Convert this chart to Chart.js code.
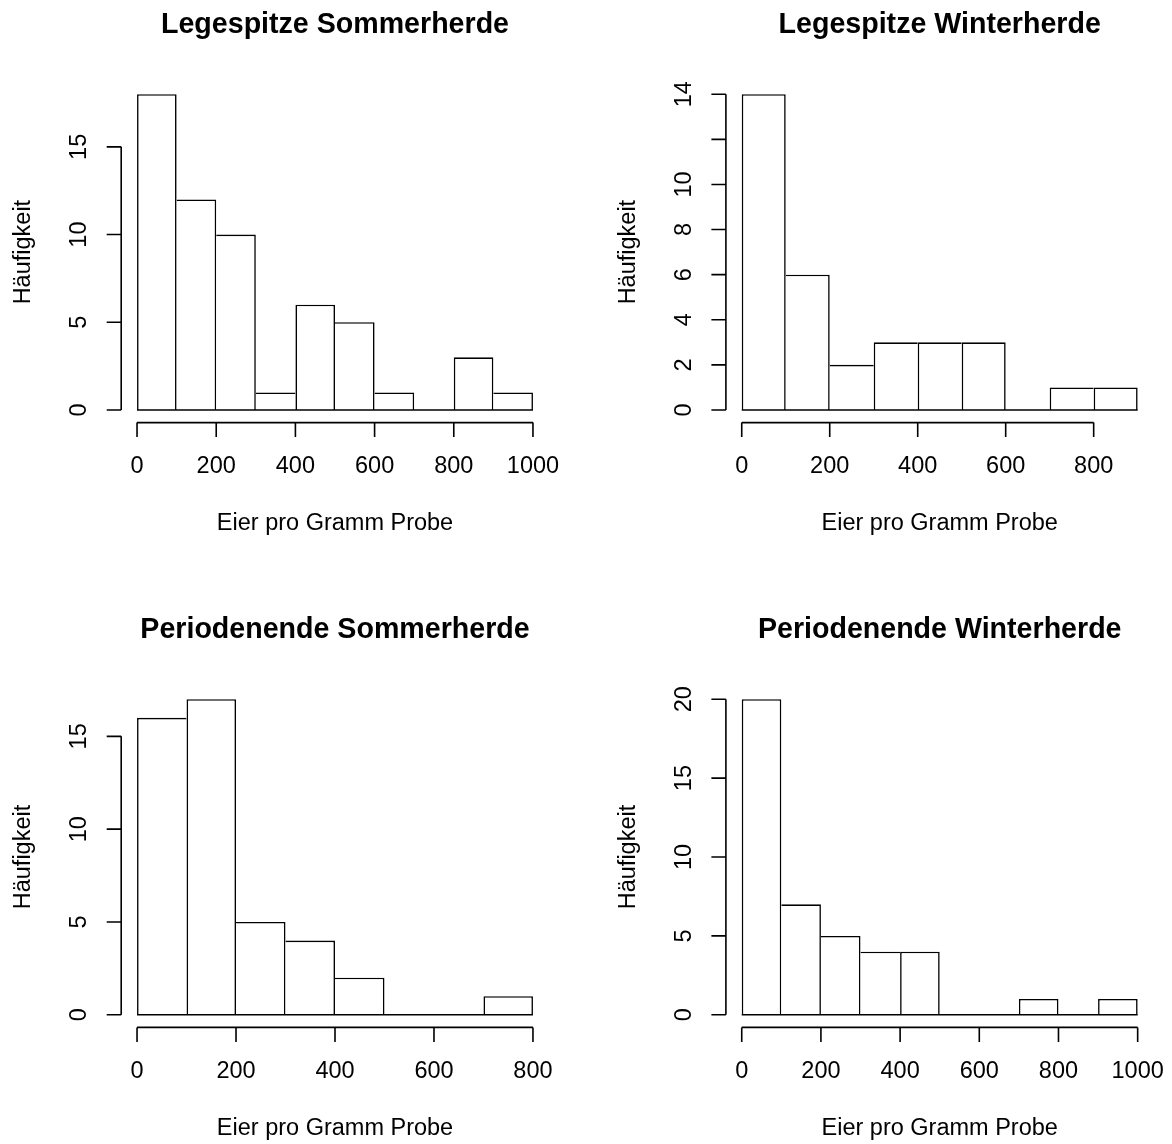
<!DOCTYPE html>
<html>
<head>
<meta charset="utf-8">
<script src="https://cdn.jsdelivr.net/npm/chart.js@4.4.1/dist/chart.umd.min.js"></script>
<style>
  body { margin: 0; background: #fff; }
  #wrap { position: relative; width: 1172px; height: 1144px; background: #fff; }
  #wrap canvas { position: absolute; }
</style>
</head>
<body>
<div id="wrap">
  <canvas id="h1" width="586" height="572" style="left:0;top:0"></canvas>
  <canvas id="h2" width="586" height="572" style="left:586px;top:0"></canvas>
  <canvas id="h3" width="586" height="572" style="left:0;top:572px"></canvas>
  <canvas id="h4" width="586" height="572" style="left:586px;top:572px"></canvas>
</div>
<script>
// class breaks and counts per histogram
var lsBreaks = [0, 100, 200, 300, 400, 500, 600, 700, 800, 900, 1000];
var lsCounts = [18, 12, 10, 1, 6, 5, 1, 0, 3, 1];
var lwBreaks = [0, 100, 200, 300, 400, 500, 600, 700, 800, 900];
var lwCounts = [14, 6, 2, 3, 3, 3, 0, 1, 1];
var psBreaks = [0, 100, 200, 300, 400, 500, 600, 700, 800];
var psCounts = [16, 17, 5, 4, 2, 0, 0, 1];
var pwBreaks = [0, 100, 200, 300, 400, 500, 600, 700, 800, 900, 1000];
var pwCounts = [20, 7, 5, 4, 4, 0, 0, 1, 0, 1];

// axis ticks
var lsXTicks = [0, 200, 400, 600, 800, 1000];
var lsYTicks = [0, 5, 10, 15];
var lsYLabels = ['0', '5', '10', '15'];
var lwXTicks = [0, 200, 400, 600, 800];
var lwYTicks = [0, 2, 4, 6, 8, 10, 12, 14];
var lwYLabels = ['0', '2', '4', '6', '8', '10', '', '14'];
var psXTicks = [0, 200, 400, 600, 800];
var psYTicks = [0, 5, 10, 15];
var psYLabels = ['0', '5', '10', '15'];
var pwXTicks = [0, 200, 400, 600, 800, 1000];
var pwYTicks = [0, 5, 10, 15, 20];
var pwYLabels = ['0', '5', '10', '15', '20'];

var xTitle = 'Eier pro Gramm Probe';
var yTitle = 'Häufigkeit';

var FONT = '"Liberation Sans", Arial, Helvetica, sans-serif';
var LW = 1.6;
var SLOT_W = 586, SLOT_H = 572;

// draws axes, labels and titles in the style of base R graphics
var rAxes = {
  id: 'rAxes',
  afterDraw: function(chart, args, o) {
    var ctx = chart.ctx, xs = chart.scales.x, ys = chart.scales.y, a = chart.chartArea;
    var i;
    ctx.save();
    ctx.strokeStyle = '#000';
    ctx.fillStyle = '#000';
    ctx.lineWidth = LW;
    ctx.lineCap = 'butt';

    // baseline under all bins (also covers empty classes)
    var y0 = ys.getPixelForValue(0);
    ctx.beginPath();
    ctx.moveTo(xs.getPixelForValue(o.breaks[0]), y0);
    ctx.lineTo(xs.getPixelForValue(o.breaks[o.breaks.length - 1]), y0);
    ctx.stroke();

    // x axis
    var xa = xs.getPixelForValue(o.xTicks[0]), xb = xs.getPixelForValue(o.xTicks[o.xTicks.length - 1]);
    ctx.beginPath();
    ctx.moveTo(xa, a.bottom);
    ctx.lineTo(xb, a.bottom);
    for (i = 0; i < o.xTicks.length; i++) {
      var px = xs.getPixelForValue(o.xTicks[i]);
      ctx.moveTo(px, a.bottom);
      ctx.lineTo(px, a.bottom + 14.5);
    }
    ctx.stroke();

    // y axis
    var ya = ys.getPixelForValue(o.yTicks[0]), yb = ys.getPixelForValue(o.yTicks[o.yTicks.length - 1]);
    ctx.beginPath();
    ctx.moveTo(a.left, ya);
    ctx.lineTo(a.left, yb);
    for (i = 0; i < o.yTicks.length; i++) {
      var py = ys.getPixelForValue(o.yTicks[i]);
      ctx.moveTo(a.left, py);
      ctx.lineTo(a.left - 14.5, py);
    }
    ctx.stroke();

    // tick labels
    ctx.font = '23.5px ' + FONT;
    ctx.textAlign = 'center';
    ctx.textBaseline = 'alphabetic';
    for (i = 0; i < o.xTicks.length; i++) {
      ctx.fillText(String(o.xTicks[i]), xs.getPixelForValue(o.xTicks[i]), a.bottom + 50.4);
    }
    for (i = 0; i < o.yTicks.length; i++) {
      if (!o.yLabels[i]) continue;
      ctx.save();
      ctx.translate(a.left - 35, ys.getPixelForValue(o.yTicks[i]));
      ctx.rotate(-Math.PI / 2);
      ctx.fillText(o.yLabels[i], 0, 0);
      ctx.restore();
    }

    // axis titles
    var cx = (a.left + a.right) / 2, cy = (a.top + a.bottom) / 2;
    ctx.fillText(xTitle, cx, a.bottom + 107.4);
    ctx.save();
    ctx.translate(a.left - 91.2, cy);
    ctx.rotate(-Math.PI / 2);
    ctx.fillText(yTitle, 0, 0);
    ctx.restore();

    // main title
    ctx.font = 'bold 28.6px ' + FONT;
    ctx.fillText(o.title, cx, a.top - 48.3);
    ctx.restore();
  }
};

function histogram(id, slotX, slotY, plot, title, breaks, counts, xTicks, yTicks, yLabels) {
  var points = counts.map(function(n, i) {
    return { x: (breaks[i] + breaks[i + 1]) / 2, y: n };
  });
  var xMin = breaks[0], xMax = breaks[breaks.length - 1];
  var yMax = Math.max.apply(null, counts);
  var dx = (xMax - xMin) * 0.04, dy = yMax * 0.04;

  new Chart(document.getElementById(id), {
    type: 'bar',
    data: {
      datasets: [{
        data: points,
        backgroundColor: '#fff',
        borderColor: '#000',
        borderSkipped: 'start',
        inflateAmount: 0,
        barPercentage: 1,
        categoryPercentage: 1,
        // a shared edge is drawn once, by the taller of the two neighbours
        borderWidth: function(c) {
          var i = c.dataIndex, n = counts[i];
          var left = i === 0 || counts[i - 1] <= n;
          var right = i === counts.length - 1 || counts[i + 1] < n;
          return { left: left ? LW : 0, top: LW, right: right ? LW : 0, bottom: 0 };
        }
      }]
    },
    options: {
      responsive: false,
      animation: false,
      devicePixelRatio: 1,
      events: [],
      layout: {
        padding: {
          left: plot[0] - slotX,
          right: slotX + SLOT_W - plot[1],
          top: plot[2] - slotY,
          bottom: slotY + SLOT_H - plot[3]
        }
      },
      scales: {
        x: { type: 'linear', display: false, offset: false, min: xMin - dx, max: xMax + dx },
        y: { type: 'linear', display: false, min: -dy, max: yMax + dy }
      },
      plugins: {
        legend: { display: false },
        tooltip: { enabled: false },
        rAxes: { title: title, breaks: breaks, xTicks: xTicks, yTicks: yTicks, yLabels: yLabels }
      }
    },
    plugins: [rAxes]
  });
}

// plot regions [left, right, top, bottom] in page pixels
var leftCol = [121.2, 548.8], rightCol = [725.9, 1153.5];
var topRow = [81.6, 422.6], bottomRow = [686.6, 1027.4];

histogram('h1', 0, 0, leftCol.concat(topRow), 'Legespitze Sommerherde',
  lsBreaks, lsCounts, lsXTicks, lsYTicks, lsYLabels);
histogram('h2', 586, 0, rightCol.concat(topRow), 'Legespitze Winterherde',
  lwBreaks, lwCounts, lwXTicks, lwYTicks, lwYLabels);
histogram('h3', 0, 572, leftCol.concat(bottomRow), 'Periodenende Sommerherde',
  psBreaks, psCounts, psXTicks, psYTicks, psYLabels);
histogram('h4', 586, 572, rightCol.concat(bottomRow), 'Periodenende Winterherde',
  pwBreaks, pwCounts, pwXTicks, pwYTicks, pwYLabels);
</script>
</body>
</html>
